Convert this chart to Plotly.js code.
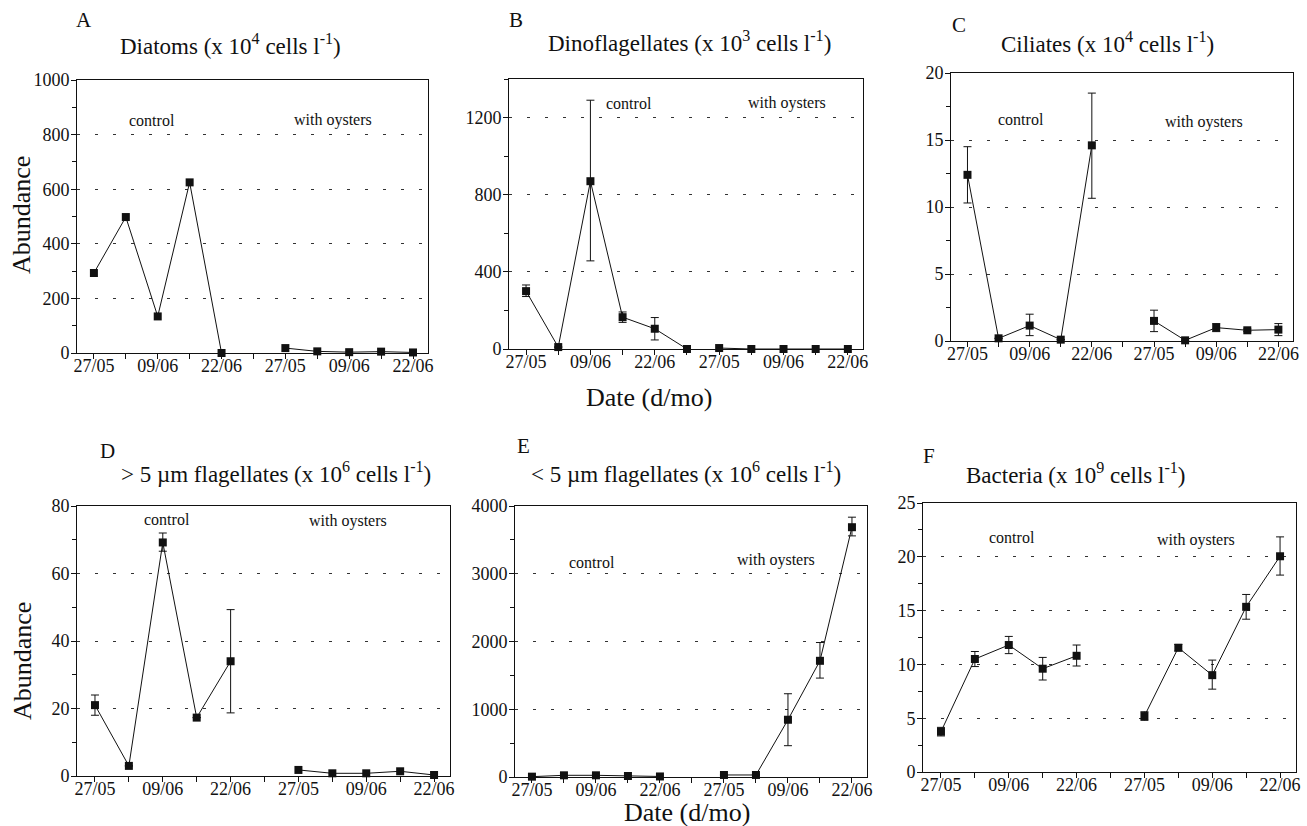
<!DOCTYPE html>
<html>
<head>
<meta charset="utf-8">
<script src="https://cdn.plot.ly/plotly-3.0.1.min.js"></script>
<style>html,body{margin:0;padding:0;background:#fff;}#chart{width:1307px;height:826px;}</style>
</head>
<body>
<div id="chart"></div>
<script>
// ---------- DATA ----------
const tickPositions = [0,2,4,6,8,10];
const tickLabels = ['27/05','09/06','22/06','27/05','09/06','22/06'];
const posControl = [0,1,2,3,4];
const posOysters = [6,7,8,9,10];

// A: Diatoms (x 10^4 cells l-1)
const diatomControl = [293, 498, 134, 625, 0];
const diatomOysters = [18, 6, 3, 5, 2];

// B: Dinoflagellates (x 10^3 cells l-1) -- control has an extra sample at the gap position
const dinoPosControl = [0,1,2,3,4,5];
const dinoControl = [300, 10, 870, 165, 105, 0];
const dinoControlErrUp = [32, 0, 420, 27, 58, 0];
const dinoControlErrDn = [28, 0, 413, 27, 58, 0];
const dinoOysters = [5, 0, 0, 0, 0];

// C: Ciliates (x 10^4 cells l-1)
const ciliateControl = [12.4, 0.2, 1.15, 0.1, 14.6];
const ciliateControlErrUp = [2.1, 0, 0.85, 0, 3.9];
const ciliateControlErrDn = [2.1, 0, 0.75, 0, 3.95];
const ciliateOysters = [1.5, 0.05, 1.0, 0.8, 0.85];
const ciliateOystersErrUp = [0.8, 0, 0.3, 0.1, 0.45];
const ciliateOystersErrDn = [0.8, 0, 0.3, 0.1, 0.45];

// D: > 5 um flagellates (x 10^6 cells l-1)
const bigFlagControl = [21.0, 3.0, 69.2, 17.3, 34.0];
const bigFlagControlErrUp = [3.0, 0, 2.8, 0, 15.3];
const bigFlagControlErrDn = [3.0, 0, 2.6, 0, 15.3];
const bigFlagOysters = [1.8, 0.8, 0.8, 1.4, 0.3];

// E: < 5 um flagellates (x 10^6 cells l-1)
const smallFlagControl = [5, 25, 25, 15, 8];
const smallFlagOysters = [30, 30, 845, 1715, 3687];
const smallFlagOystersErrUp = [0, 0, 384, 270, 148];
const smallFlagOystersErrDn = [0, 0, 383, 255, 128];

// F: Bacteria (x 10^9 cells l-1)
const bactControl = [3.75, 10.5, 11.8, 9.6, 10.8];
const bactControlErrUp = [0.4, 0.7, 0.8, 1.05, 1.0];
const bactControlErrDn = [0.4, 0.7, 0.8, 1.05, 0.95];
const bactOysters = [5.2, 11.55, 9.0, 15.35, 20.05];
const bactOystersErrUp = [0.4, 0.3, 1.4, 1.15, 1.8];
const bactOystersErrDn = [0.4, 0.3, 1.3, 1.15, 1.75];

// ---------- LAYOUT HELPERS ----------
const W = 1307, H = 826;
const FONT = '"Liberation Serif", "Times New Roman", Times, serif';
const px = v => v / W;
const py = v => 1 - v / H;

const panels = [
  {id:'', box:[77,428,80,353], yr:[0,1000], dt:200, minor:100},
  {id:'2', box:[509,863,79,349], yr:[0,1400], dt:400, minor:200},
  {id:'3', box:[951,1293,73,341], yr:[0,20], dt:5, minor:2.5},
  {id:'4', box:[77,450,506,776], yr:[0,80], dt:20, minor:10},
  {id:'5', box:[515,867,506,777], yr:[0,4000], dt:1000, minor:500},
  {id:'6', box:[923,1296,503,772], yr:[0,25], dt:5, minor:2.5}
];

const layout = {
  width: W, height: H,
  margin: {l:0, r:0, t:0, b:0},
  paper_bgcolor: '#fff', plot_bgcolor: '#fff',
  showlegend: false,
  font: {family: FONT, color: '#111', size: 18},
  annotations: []
};

panels.forEach(p => {
  const [x0,x1,y0,y1] = p.box;
  layout['xaxis' + p.id] = {
    domain: [px(x0), px(x1)],
    anchor: 'y' + p.id,
    range: [-0.53, 10.47],
    tickmode: 'array', tickvals: tickPositions, ticktext: tickLabels,
    ticks: 'outside', ticklen: 5, tickcolor: '#111', tickwidth: 1,
    minor: {tick0: 0, dtick: 1, ticks: 'outside', ticklen: 5, tickcolor: '#111', showgrid: false},
    ticklabelstandoff: -9,
    showline: true, linecolor: '#111', linewidth: 1, mirror: true,
    showgrid: false, zeroline: false,
    tickfont: {family: FONT, size: 18, color: '#111'},
    fixedrange: true
  };
  layout['yaxis' + p.id] = {
    domain: [py(y1), py(y0)],
    anchor: 'x' + p.id,
    range: p.yr,
    tick0: 0, dtick: p.dt,
    ticks: 'outside', ticklen: 5, tickcolor: '#111', tickwidth: 1,
    ticklabelstandoff: -2,
    minor: {dtick: p.minor, ticks: 'outside', ticklen: 4, tickcolor: '#111', showgrid: false},
    showline: true, linecolor: '#111', linewidth: 1, mirror: true,
    showgrid: true, gridcolor: '#333', gridwidth: 1, griddash: '3px,15px',
    zeroline: false,
    tickfont: {family: FONT, size: 18, color: '#111'},
    fixedrange: true
  };
});

// ---------- TRACES ----------
const traces = [];
function series(axId, xs, ys, up, dn) {
  const t = {
    type: 'scatter', mode: 'lines+markers',
    x: xs, y: ys,
    xaxis: 'x' + axId, yaxis: 'y' + axId,
    line: {color: '#111', width: 1},
    marker: {symbol: 'square', size: 8, color: '#111'},
    cliponaxis: false,
    hoverinfo: 'skip'
  };
  if (up) {
    t.error_y = {type: 'data', symmetric: false, array: up, arrayminus: dn || up,
                 color: '#111', thickness: 1, width: 4};
  }
  traces.push(t);
}
series('', posControl, diatomControl);
series('', posOysters, diatomOysters);
series('2', dinoPosControl, dinoControl, dinoControlErrUp, dinoControlErrDn);
series('2', posOysters, dinoOysters);
series('3', posControl, ciliateControl, ciliateControlErrUp, ciliateControlErrDn);
series('3', posOysters, ciliateOysters, ciliateOystersErrUp, ciliateOystersErrDn);
series('4', posControl, bigFlagControl, bigFlagControlErrUp, bigFlagControlErrDn);
series('4', posOysters, bigFlagOysters);
series('5', posControl, smallFlagControl);
series('5', posOysters, smallFlagOysters, smallFlagOystersErrUp, smallFlagOystersErrDn);
series('6', posControl, bactControl, bactControlErrUp, bactControlErrDn);
series('6', posOysters, bactOysters, bactOystersErrUp, bactOystersErrDn);

// ---------- TEXT ----------
function note(text, x, y, size, extra) {
  layout.annotations.push(Object.assign({
    text: text, xref: 'paper', yref: 'paper', x: px(x), y: py(y),
    xanchor: 'center', yanchor: 'middle', showarrow: false, borderpad: 0,
    font: {family: FONT, size: size, color: '#111'}
  }, extra || {}));
}
// panel letters
note('A', 84, 20, 21);
note('B', 516, 20, 21);
note('C', 959, 25, 21);
note('D', 107, 451, 21);
note('E', 523, 446, 21);
note('F', 929, 456, 21);
// panel titles
note('Diatoms (x 10<sup>4</sup> cells l<sup>-1</sup>)', 230, 44, 23);
note('Dinoflagellates (x 10<sup>3</sup> cells l<sup>-1</sup>)', 689, 42, 23);
note('Ciliates (x 10<sup>4</sup> cells l<sup>-1</sup>)', 1107, 43, 23);
note('&gt; 5 µm flagellates (x 10<sup>6</sup> cells l<sup>-1</sup>)', 276, 472, 23);
note('&lt; 5 µm flagellates (x 10<sup>6</sup> cells l<sup>-1</sup>)', 686, 472, 23);
note('Bacteria (x 10<sup>9</sup> cells l<sup>-1</sup>)', 1075, 473, 23);
// group labels
const grp = [
  [152,121,333,120], [629,104,787,103], [1021,120,1204,122],
  [167,519,348,521], [592,562,776,560], [1012,537,1196,540]
];
grp.forEach(g => { note('control', g[0], g[1], 16); note('with oysters', g[2], g[3], 16); });
// axis titles
note('Abundance', 22, 215, 26, {textangle: -90});
note('Abundance', 22, 661, 26, {textangle: -90});
note('Date (d/mo)', 649, 397, 26);
note('Date (d/mo)', 687, 812, 26);

Plotly.newPlot('chart', traces, layout, {staticPlot: true, displayModeBar: false});
</script>
</body>
</html>
